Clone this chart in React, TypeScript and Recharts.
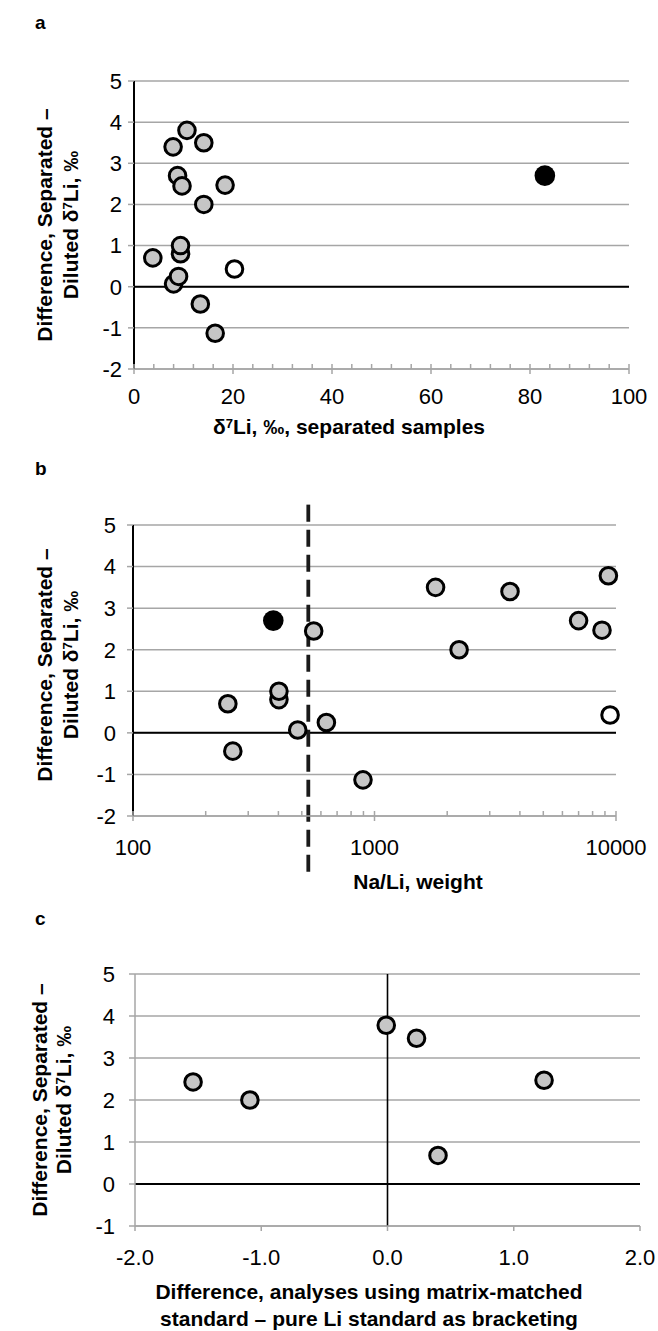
import React from "react";
import { ScatterChart, Scatter, XAxis, YAxis, CartesianGrid, ReferenceLine } from "recharts";

const FONT = "'Liberation Sans', Arial, Helvetica, sans-serif";
const GRID = "#a6a6a6";
const GREY_FILL = "#c6c6c6";

// panel a: δ7Li of separated samples vs difference
const aGreyX = [10.7, 7.9, 14.1, 8.8, 9.7, 18.4, 14.1, 9.4, 9.4, 3.8, 8.0, 9.0, 13.4, 16.4];
const aGreyY = [3.8, 3.4, 3.5, 2.7, 2.45, 2.47, 2.0, 0.8, 1.0, 0.7, 0.07, 0.25, -0.42, -1.13];
const aOpenX = [20.3];
const aOpenY = [0.43];
const aBlackX = [83.0];
const aBlackY = [2.7];
const aXTicks = [0, 4, 8, 12, 16, 20, 24, 28, 32, 36, 40, 44, 48, 52, 56, 60, 64, 68, 72, 76, 80, 84, 88, 92, 96, 100];
const aXMajor = [0, 20, 40, 60, 80, 100];

// panel b: Na/Li (log) vs difference
const bGreyX = [560, 1790, 3640, 9300, 7000, 8750, 2240, 402, 402, 247, 481, 632, 259, 896];
const bGreyY = [2.45, 3.5, 3.4, 3.78, 2.7, 2.47, 2.0, 0.8, 1.0, 0.7, 0.07, 0.25, -0.44, -1.13];
const bOpenX = [9450];
const bOpenY = [0.43];
const bBlackX = [381];
const bBlackY = [2.7];
const bXTicks = [100, 200, 300, 400, 500, 600, 700, 800, 900, 1000, 2000, 3000, 4000, 5000, 6000, 7000, 8000, 9000, 10000];
const bXMajor = [100, 1000, 10000];
const NA_LI_CUTOFF = 532;
const CUTOFF_SPAN = [-3.36, 5.49];

// panel c: matrix-matched minus pure Li bracketing vs difference
const cGreyX = [-1.54, -1.09, -0.01, 0.23, 1.24, 0.4];
const cGreyY = [2.43, 2.0, 3.78, 3.47, 2.47, 0.68];
const cXTicks = [-2, -1, 0, 1, 2];

const yTicksAB = [-2, -1, 0, 1, 2, 3, 4, 5];
const yTicksC = [-1, 0, 1, 2, 3, 4, 5];

const pts = (xs: number[], ys: number[]) => xs.map((x, i) => ({ x, y: ys[i] }));

const greyDot = (p: any) => (
  <circle cx={p.cx} cy={p.cy} r={8.3} fill={GREY_FILL} stroke="#000" strokeWidth={3} />
);
const openDot = (p: any) => (
  <circle cx={p.cx} cy={p.cy} r={8.3} fill="#fff" stroke="#000" strokeWidth={3} />
);
const blackDot = (p: any) => <circle cx={p.cx} cy={p.cy} r={10.3} fill="#000" />;

// x ticks: major ones cross the axis and carry a label, minor ones point up
function XTick(props: any) {
  const { x, y, payload, majors, fmt, labelDy, down } = props;
  const v = payload.value;
  const major = majors.includes(v);
  return (
    <g>
      <line
        x1={x}
        x2={x}
        y1={down ? y : y - 5}
        y2={major ? y + 5 : y}
        stroke={GRID}
        strokeWidth={1.5}
      />
      {major && (
        <text x={x} y={y + labelDy} dy="0.36em" textAnchor="middle" fontSize={22} fill="#000" fontFamily={FONT}>
          {fmt(v)}
        </text>
      )}
    </g>
  );
}

const yTick = { fontSize: 22, fill: "#000", fontFamily: FONT };

const absCenter = (left: number, top: number): React.CSSProperties => ({
  position: "absolute",
  left,
  top,
  transform: "translate(-50%, -50%)",
  whiteSpace: "nowrap",
  textAlign: "center",
  fontFamily: FONT,
  fontWeight: 700,
  fontSize: 21,
  lineHeight: "26px",
  color: "#000",
});

const Sup = ({ children }: { children: React.ReactNode }) => (
  <span style={{ fontSize: "0.62em", position: "relative", top: "-0.5em", lineHeight: 0 }}>{children}</span>
);

function YTitle({ x, y, gap = 26 }: { x: number; y: number; gap?: number }) {
  return (
    <div style={{ ...absCenter(x, y), lineHeight: `${gap}px`, transform: "translate(-50%, -50%) rotate(-90deg)" }}>
      Difference, Separated –<br />
      Diluted δ<Sup>7</Sup>Li, ‰
    </div>
  );
}

const panelLetter = (top: number): React.CSSProperties => ({
  position: "absolute",
  left: 35,
  top,
  fontFamily: FONT,
  fontWeight: 700,
  fontSize: 19,
  color: "#000",
});

export default function App() {
  return (
    <div style={{ position: "absolute", left: 0, top: 0, width: 658, height: 1331, background: "#fff", overflow: "hidden" }}>
      {/* a */}
      <div style={panelLetter(12)}>a</div>
      <div style={{ position: "absolute", left: 0, top: 0 }}>
        <ScatterChart width={658} height={440} margin={{ top: 81, right: 29, left: 74, bottom: 41 }}>
          <CartesianGrid vertical={false} stroke={GRID} strokeWidth={1.5} />
          <XAxis
            type="number"
            dataKey="x"
            domain={[0, 100]}
            ticks={aXTicks}
            interval={0}
            height={30}
            tickSize={0}
            tickMargin={0}
            tickLine={false}
            axisLine={{ stroke: GRID, strokeWidth: 1.5 }}
            tick={(p: any) => <XTick {...p} majors={aXMajor} fmt={(v: number) => String(v)} labelDy={27} />}
          />
          <YAxis
            type="number"
            dataKey="y"
            domain={[-2, 5]}
            ticks={yTicksAB}
            interval={0}
            width={60}
            tickSize={6}
            tickMargin={6}
            tickLine={{ stroke: GRID, strokeWidth: 1.5 }}
            axisLine={{ stroke: "#000", strokeWidth: 2 }}
            tick={yTick}
          />
          <ReferenceLine y={0} stroke="#000" strokeWidth={2} />
          <Scatter data={pts(aGreyX, aGreyY)} shape={greyDot} isAnimationActive={false} />
          <Scatter data={pts(aOpenX, aOpenY)} shape={openDot} isAnimationActive={false} />
          <Scatter data={pts(aBlackX, aBlackY)} shape={blackDot} isAnimationActive={false} />
        </ScatterChart>
      </div>
      <YTitle x={58} y={225} />
      <div style={absCenter(349, 427)}>
        δ<Sup>7</Sup>Li, ‰, separated samples
      </div>

      {/* b */}
      <div style={panelLetter(458)}>b</div>
      <div style={{ position: "absolute", left: 0, top: 440 }}>
        <ScatterChart width={658} height={460} margin={{ top: 85, right: 42, left: 73, bottom: 54 }}>
          <CartesianGrid vertical={false} stroke={GRID} strokeWidth={1.5} />
          <XAxis
            type="number"
            dataKey="x"
            scale="log"
            domain={[100, 10000]}
            ticks={bXTicks}
            interval={0}
            height={30}
            tickSize={0}
            tickMargin={0}
            tickLine={false}
            axisLine={{ stroke: GRID, strokeWidth: 1.5 }}
            tick={(p: any) => <XTick {...p} majors={bXMajor} fmt={(v: number) => String(v)} labelDy={31} />}
          />
          <YAxis
            type="number"
            dataKey="y"
            domain={[-2, 5]}
            ticks={yTicksAB}
            interval={0}
            width={60}
            tickSize={6}
            tickMargin={11}
            tickLine={{ stroke: GRID, strokeWidth: 1.5 }}
            axisLine={{ stroke: "#000", strokeWidth: 2 }}
            tick={yTick}
          />
          <ReferenceLine y={0} stroke="#000" strokeWidth={2} />
          <Scatter data={pts(bGreyX, bGreyY)} shape={greyDot} isAnimationActive={false} />
          <Scatter data={pts(bOpenX, bOpenY)} shape={openDot} isAnimationActive={false} />
          <Scatter data={pts(bBlackX, bBlackY)} shape={blackDot} isAnimationActive={false} />
          <ReferenceLine
            segment={[
              { x: NA_LI_CUTOFF, y: CUTOFF_SPAN[1] },
              { x: NA_LI_CUTOFF, y: CUTOFF_SPAN[0] },
            ]}
            ifOverflow="visible"
            stroke="#1a1a1a"
            strokeWidth={3.8}
            strokeDasharray="17 8"
          />
        </ScatterChart>
      </div>
      <YTitle x={58} y={665} />
      <div style={absCenter(418, 882)}>Na/Li, weight</div>

      {/* c */}
      <div style={panelLetter(908)}>c</div>
      <div style={{ position: "absolute", left: 0, top: 900 }}>
        <ScatterChart width={658} height={431} margin={{ top: 74, right: 18, left: 75, bottom: 75 }}>
          <CartesianGrid vertical={false} stroke={GRID} strokeWidth={1.5} />
          <XAxis
            type="number"
            dataKey="x"
            domain={[-2, 2]}
            ticks={cXTicks}
            interval={0}
            height={30}
            tickSize={0}
            tickMargin={0}
            tickLine={false}
            axisLine={{ stroke: GRID, strokeWidth: 1.5 }}
            tick={(p: any) => (
              <XTick {...p} majors={cXTicks} fmt={(v: number) => v.toFixed(1)} labelDy={31} down />
            )}
          />
          <YAxis
            type="number"
            dataKey="y"
            domain={[-1, 5]}
            ticks={yTicksC}
            interval={0}
            width={60}
            tickSize={6}
            tickMargin={14}
            tickLine={{ stroke: GRID, strokeWidth: 1.5 }}
            axisLine={{ stroke: GRID, strokeWidth: 1.5 }}
            tick={yTick}
          />
          <ReferenceLine y={0} stroke="#000" strokeWidth={2} />
          <ReferenceLine x={0} stroke="#000" strokeWidth={1.6} />
          <Scatter data={pts(cGreyX, cGreyY)} shape={greyDot} isAnimationActive={false} />
        </ScatterChart>
      </div>
      <YTitle x={52} y={1100} gap={24} />
      <div style={{ ...absCenter(369, 1305), lineHeight: "27px" }}>
        Difference, analyses using matrix-matched
        <br />
        standard – pure Li standard as bracketing
      </div>
    </div>
  );
}
